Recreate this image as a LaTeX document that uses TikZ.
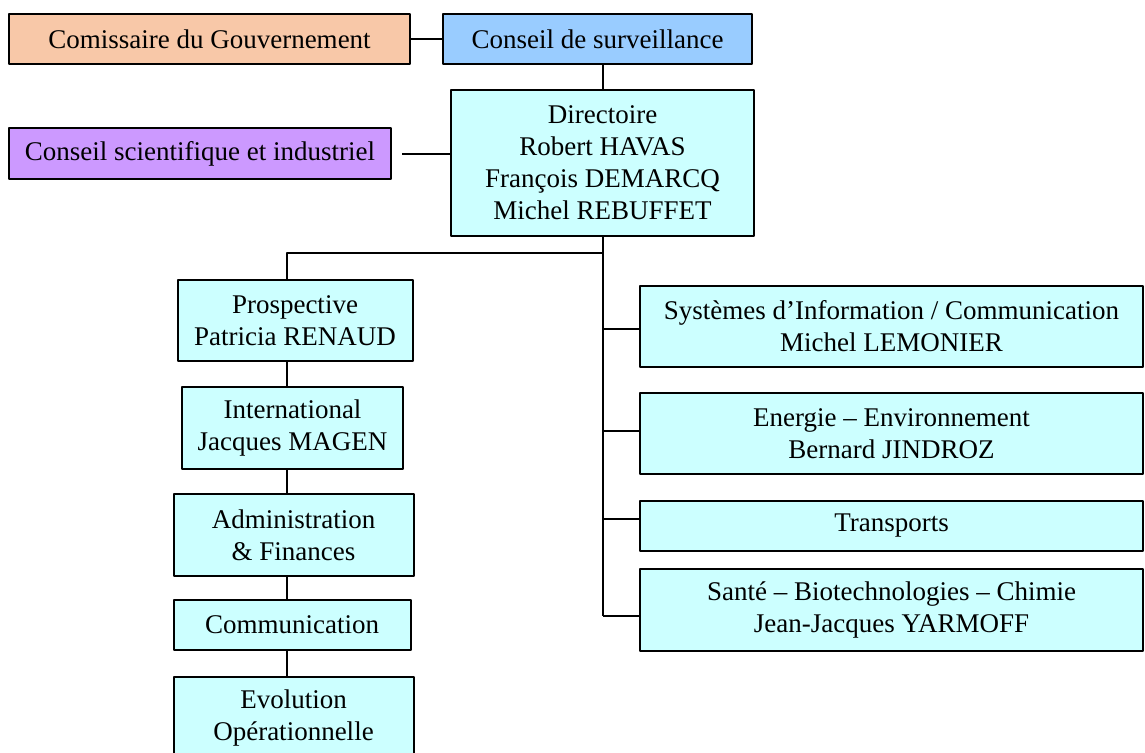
\documentclass[tikz,border=0pt]{standalone}
\usepackage{fontspec}
\setmainfont{Liberation Serif}
\definecolor{gouvfill}{HTML}{F8C8A8}
\definecolor{survfill}{HTML}{99CCFF}
\definecolor{scifill}{HTML}{CC99FF}
\definecolor{dirfill}{HTML}{CCFFFF}
\begin{document}
\begin{tikzpicture}[x=0.5pt, y=-0.5pt, line join=round, font=\fontsize{13.5}{16}\selectfont,
    orgbox/.style 2 args={draw, line width=1pt, fill=dirfill, align=center, inner sep=0pt,
        minimum width=#1*0.5pt, minimum height=#2*0.5pt},
    link/.style={line width=1pt}]
            \useasboundingbox (0,0) rectangle (1145,752);
            \def\rx{891.5}
            % top row
            \node[orgbox={401}{50}, fill=gouvfill] (gouv) at (209.5,39) {Comissaire du Gouvernement};
            \node[orgbox={309}{50}, fill=survfill] (surv) at (597.5,39) {Conseil de surveillance};
            \node[orgbox={382}{51}, fill=scifill] (sci) at (200,153.5) {Conseil scientifique et industriel};
            \node[orgbox={303}{146}] (dir) at (602.5,163) {Directoire\\Robert HAVAS\\François DEMARCQ\\Michel REBUFFET};
            % left column
            \node[orgbox={235}{81}] (prosp) at (295,320.5) {Prospective\\Patricia RENAUD};
            \node[orgbox={221}{82}] (intl) at (292.5,428) {International\\Jacques MAGEN};
            \node[orgbox={240}{82}] (admin) at (293.5,535) {Administration\\\& Finances};
            \node[orgbox={237}{50}] (comm) at (292,625) {Communication};
            \node[orgbox={240}{82}] (evol) at (293.5,718) {Evolution\\Opérationnelle};
            % right column
            \node[orgbox={503}{81}] (sys) at (\rx,326.5) {Systèmes d’Information / Communication\\Michel LEMONIER};
            \node[orgbox={503}{81}] (ener) at (\rx,433.5) {Energie – Environnement\\Bernard JINDROZ};
            \node[orgbox={503}{50}] (trans) at (\rx,526) {Transports};
            \node[orgbox={503}{82}] (sante) at (\rx,610) {Santé – Biotechnologies – Chimie\\Jean-Jacques YARMOFF};
            % links
            \coordinate (lx) at (287,253);
            \draw[link] (gouv.east) -- (surv.west);
            \draw[link] (dir.north) -- (dir.north |- surv.south);
            \draw[link] ([xshift=5pt]sci.east) -- (sci.east -| dir.west);
            \draw[link] (dir.south) -- ([yshift=-3pt]dir.south |- sante.west);
            \foreach \n/\dy in {sys/-1.25,ener/1.25,trans/3.5,sante/-3}\draw[link] ([yshift=\dy pt]\n.west) -- ([yshift=\dy pt]\n.west -| dir.south);
            \draw[link] (dir.south |- lx) -- (lx) -- (lx |- prosp.north);
            \foreach \a/\b in {prosp/intl,intl/admin,admin/comm,comm/evol}\draw[link] (lx |- \a.south) -- (lx |- \b.north);
\end{tikzpicture}
\end{document}
